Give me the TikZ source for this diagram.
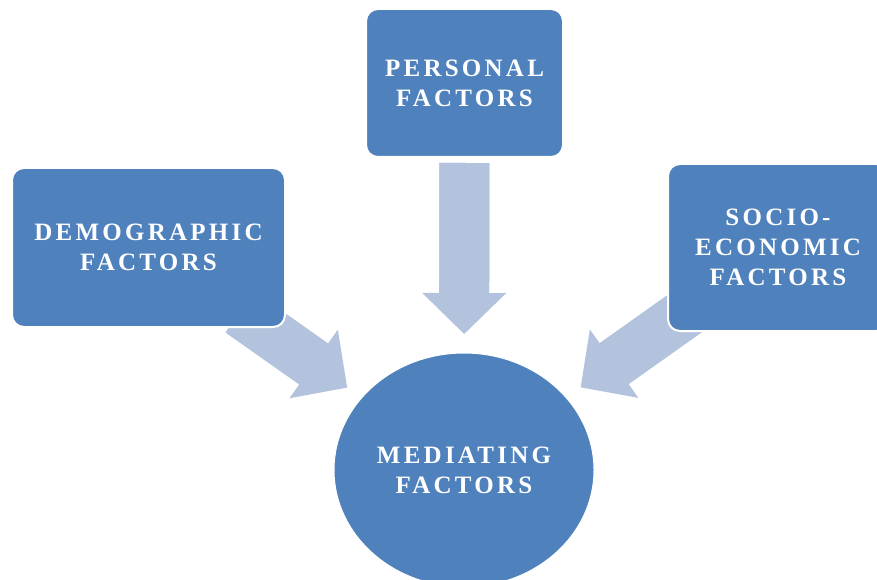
\documentclass[tikz,border=0pt]{standalone}
\usepackage{fontspec}
\newfontfamily\boxfont[LetterSpace=13]{Liberation Serif}
\usepackage{tikz}
\usetikzlibrary{positioning,arrows.meta,shapes.geometric,calc,backgrounds}
\definecolor{boxblue}{HTML}{4F81BD}
\definecolor{arrowblue}{HTML}{B3C3DE}

\begin{document}
\begin{tikzpicture}[
    x=1pt, y=-1pt,
    box/.style={rectangle, rounded corners=12pt, draw=white, line width=2pt, fill=boxblue, text=white, align=center, inner sep=0pt, font=\boxfont\bfseries\fontsize{25}{30}\selectfont},
    hub/.style={ellipse, draw=white, line width=1pt, fill=boxblue, text=white, align=center, inner sep=0pt, font=\boxfont\bfseries\fontsize{25}{30}\selectfont},
    arrow/.style={draw=arrowblue, line width=50pt, -{Triangle[length=41pt, width=84pt, line width=0pt]},
        preaction={draw=arrowblue, line width=50pt, arrows=-, shorten >=30pt}}
]

\useasboundingbox (0,0) rectangle (877,580);
\clip (0,0) rectangle (877,580);

% Nodes
\node[box, minimum width=197pt, minimum height=148pt] (personal) at (464.5,83) {PERSONAL\\FACTORS};
\node[box, minimum width=273pt, minimum height=159pt] (demographic) at (148.5,247.5) {DEMOGRAPHIC\\FACTORS};
\node[box, minimum width=220pt, minimum height=167pt] (socio) at (778,247.5) {SOCIO-\\ECONOMIC\\FACTORS};
\node[hub, minimum width=260pt, minimum height=234pt] (mediating) at (464,470) {MEDIATING\\FACTORS};

% Arrows
\begin{scope}[on background layer]
\draw[arrow] ($(personal)!80pt!(mediating)$) -- ($(mediating)!136pt!(personal)$);
\draw[arrow] ($(demographic)!112pt!(mediating)$) -- ($(mediating)!143pt!(demographic)$);
\draw[arrow] ($(socio)!111pt!(mediating)$) -- ($(mediating)!143pt!(socio)$);
\end{scope}

\end{tikzpicture}
\end{document}
